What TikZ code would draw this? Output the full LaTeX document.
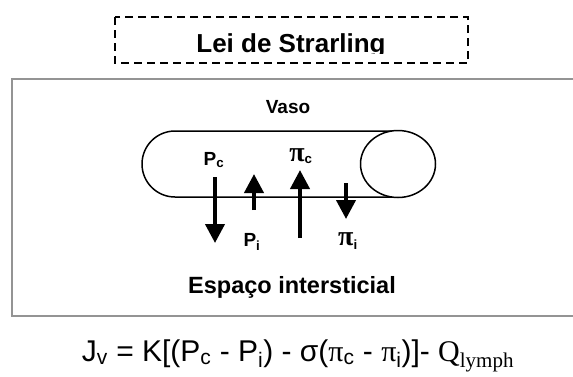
\documentclass[tikz,border=0pt]{standalone}
\usepackage{fontspec}
\setmainfont{Liberation Sans}
\newfontfamily\timesf{Liberation Serif}
\usetikzlibrary{arrows.meta}
\tikzset{
  titlebox/.style={draw=black, line width=2.6pt, dash pattern=on 8pt off 5pt},
  framebox/.style={draw=black!42, line width=2.6pt},
  vessel/.style={draw=black, line width=1.5pt},
  force/.style={line width=4pt, -{Triangle[width=19pt,length=19pt]}},
  lbl/.style={inner sep=0pt, font=\bfseries\fontsize{19}{21}\selectfont},
}
\begin{document}
\begin{tikzpicture}[x=1pt,y=-1pt]
\useasboundingbox (0,0) rectangle (573,376);
% title
\begin{scope}
\clip (100,10) rectangle (480,53.5);
\node[anchor=base, inner sep=0pt, font=\bfseries\fontsize{26}{30}\selectfont] (title) at (291,52) {Lei de Strarling};
\end{scope}
\draw[titlebox] (115,17) rectangle (468,63);
% frame
\draw[framebox] (12,79) rectangle (590,316);
\node[anchor=base, inner sep=0pt, font=\bfseries\fontsize{19}{22}\selectfont] (vaso) at (288,113) {Vaso};
% vessel
\draw[vessel] (392,131) -- (175,131) arc[start angle=270, end angle=90, radius=33] -- (392,197);
\draw[vessel] (398,164) ellipse[x radius=37.5, y radius=33.5];
% labels
\node[lbl] (pc) at (214,160) {P\textsubscript{c}};
\node[lbl] (pi) at (252,242) {P\textsubscript{i}};
\node[lbl] (pic) at (301,156) {{\timesf\fontsize{28}{30}\selectfont π}\textsubscript{c}};
\node[lbl] (pii) at (348,241) {{\timesf\fontsize{28}{30}\selectfont π}\textsubscript{i}};
% arrows
\coordinate (a1s) at (215,177); \coordinate (a1e) at (215,243);
\coordinate (a2s) at (254,210); \coordinate (a2e) at (254,174);
\coordinate (a3s) at (300,238); \coordinate (a3e) at (300,170);
\coordinate (a4s) at (346,183); \coordinate (a4e) at (346,219);
\draw[force] (a1s) -- (a1e);
\draw[force] (a2s) -- (a2e);
\draw[force] (a3s) -- (a3e);
\draw[force] (a4s) -- (a4e);
\node[anchor=base, inner sep=0pt, font=\bfseries\fontsize{23.5}{26}\selectfont] (esp) at (292,293) {Espaço intersticial};
% equation
\node[anchor=base, inner sep=0pt, font=\fontsize{30}{33}\selectfont] (eq) at (298,361)
 {J\textsubscript{v} = K[(P\textsubscript{c} - P\textsubscript{i}) - σ({\timesf π}\textsubscript{c} - {\timesf π}\textsubscript{i})]- {\timesf Q\textsubscript{lymph}}};
\end{tikzpicture}
\end{document}
